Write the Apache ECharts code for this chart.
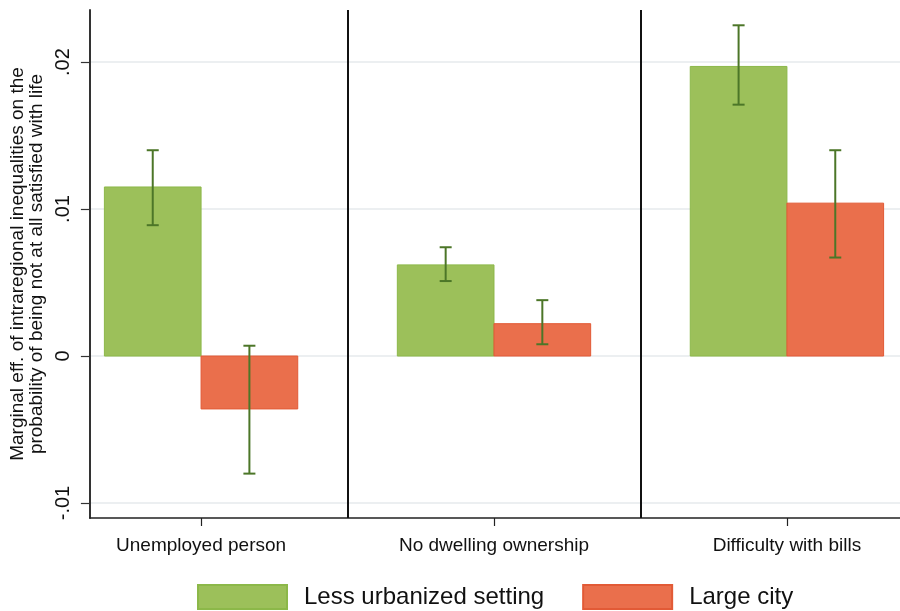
<!DOCTYPE html>
<html>
<head>
<meta charset="utf-8">
<script src="https://cdn.jsdelivr.net/npm/echarts@6/dist/echarts.min.js"></script>
<style>html,body{margin:0;padding:0;background:#fff;}#c{width:900px;height:611px;}</style>
</head>
<body>
<div id="c"></div>
<script>
const categories = ['Unemployed person', 'No dwelling ownership', 'Difficulty with bills'];
const seriesNames = ['Less urbanized setting', 'Large city'];
const lessUrban = [0.0115, 0.0062, 0.0197];
const lessUrbanLo = [0.0089, 0.0051, 0.0171];
const lessUrbanHi = [0.0140, 0.0074, 0.0225];
const largeCity = [-0.0036, 0.0022, 0.0104];
const largeCityLo = [-0.0080, 0.0008, 0.0067];
const largeCityHi = [0.0007, 0.0038, 0.0140];
const yTicks = [-0.01, 0, 0.01, 0.02];
const separators = [1.5, 2.5];

const GREEN = '#9cc05a', GREEN_B = '#8cb849';
const RED = '#ea6f4c', RED_B = '#e25a36';
const ERR = '#4c7628';
const HALF = 0.33;

function fmtY(v) {
  if (Math.abs(v) < 1e-9) return '0';
  let s = Math.abs(v).toFixed(2).replace(/^0/, '');
  return (v < 0 ? '-' : '') + s;
}

function barRender(side) {
  return function (params, api) {
    const c = api.value(0), v = api.value(1);
    const p0 = api.coord([c, 0]);
    const p1 = api.coord([c + side * HALF, v]);
    const x = Math.min(p0[0], p1[0]), y = Math.min(p0[1], p1[1]);
    return {
      type: 'rect',
      shape: { x: x, y: y, width: Math.abs(p1[0] - p0[0]), height: Math.abs(p1[1] - p0[1]) },
      style: api.style()
    };
  };
}
function errRender(side) {
  return function (params, api) {
    const c = api.value(0) + side * HALF / 2;
    const lo = api.coord([c, api.value(1)]);
    const hi = api.coord([c, api.value(2)]);
    const cap = 6;
    const st = { stroke: ERR, lineWidth: 2 };
    return {
      type: 'group',
      children: [
        { type: 'line', shape: { x1: lo[0], y1: lo[1], x2: hi[0], y2: hi[1] }, style: st },
        { type: 'line', shape: { x1: lo[0] - cap, y1: lo[1], x2: lo[0] + cap, y2: lo[1] }, style: st },
        { type: 'line', shape: { x1: hi[0] - cap, y1: hi[1], x2: hi[0] + cap, y2: hi[1] }, style: st }
      ]
    };
  };
}

const pos = categories.map((_, i) => i + 1);
const chart = echarts.init(document.getElementById('c'), null, { renderer: 'canvas' });
chart.setOption({
  animation: false,
  backgroundColor: '#fff',
  grid: { left: 87, right: 0, top: 10, bottom: 93, containLabel: false },
  legend: {
    data: seriesNames.map(n => ({ name: n, icon: 'rect' })),
    left: 197, top: 584, padding: 0,
    itemWidth: 89, itemHeight: 24, itemGap: 38,
    textStyle: { fontFamily: 'Liberation Sans, Arial, sans-serif', fontSize: 24, color: '#111', padding: [0, 0, 0, 12] }
  },
  xAxis: {
    type: 'value', min: 0.6205, max: 3.386,
    axisLine: { show: true, onZero: false, lineStyle: { color: '#222', width: 1.5 } },
    axisTick: { show: true, customValues: pos, length: 8, lineStyle: { color: '#222', width: 1.2 } },
    axisLabel: {
      customValues: pos, margin: 18,
      formatter: v => categories[Math.round(v) - 1] || '',
      fontFamily: 'Liberation Sans, Arial, sans-serif', fontSize: 19, color: '#111'
    },
    splitLine: { show: false }
  },
  yAxis: {
    type: 'value', min: -0.01102, max: 0.02354,
    name: 'Marginal eff. of intraregional inequalities on the\nprobability of being not at all satisfied with life',
    nameLocation: 'middle', nameGap: 40,
    nameTextStyle: { fontFamily: 'Liberation Sans, Arial, sans-serif', fontSize: 19, color: '#111', lineHeight: 19 },
    axisLine: { show: true, lineStyle: { color: '#333', width: 2 } },
    axisTick: { show: true, customValues: yTicks, length: 9, lineStyle: { color: '#333', width: 1.2 } },
    axisLabel: {
      customValues: yTicks, rotate: 90, margin: 16, formatter: fmtY,
      fontFamily: 'Liberation Sans, Arial, sans-serif', fontSize: 20, color: '#111'
    },
    splitLine: { show: true, lineStyle: { color: '#e6eaec', width: 1.5 } }
  },
  series: [
    {
      name: seriesNames[0], type: 'custom', renderItem: barRender(-1),
      itemStyle: { color: GREEN, borderColor: GREEN_B, borderWidth: 1 },
      encode: { x: 0, y: 1 },
      data: pos.map((p, i) => [p, lessUrban[i]]),
      z: 2,
      markLine: {
        silent: true, symbol: ['none', 'none'], label: { show: false },
        lineStyle: { color: '#111', width: 2, type: 'solid' },
        data: separators.map(s => ({ xAxis: s }))
      }
    },
    {
      name: seriesNames[1], type: 'custom', renderItem: barRender(1),
      itemStyle: { color: RED, borderColor: RED_B, borderWidth: 1 },
      encode: { x: 0, y: 1 },
      data: pos.map((p, i) => [p, largeCity[i]]),
      z: 2
    },
    {
      name: 'ci1', type: 'custom', renderItem: errRender(-1),
      encode: { x: 0, y: [1, 2] },
      data: pos.map((p, i) => [p, lessUrbanLo[i], lessUrbanHi[i]]),
      z: 3
    },
    {
      name: 'ci2', type: 'custom', renderItem: errRender(1),
      encode: { x: 0, y: [1, 2] },
      data: pos.map((p, i) => [p, largeCityLo[i], largeCityHi[i]]),
      z: 3
    }
  ]
});
</script>
</body>
</html>
